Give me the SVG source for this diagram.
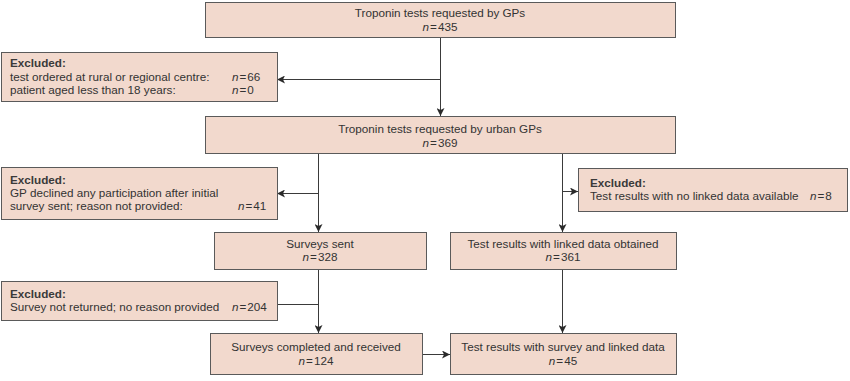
<svg xmlns="http://www.w3.org/2000/svg" width="850" height="381" viewBox="0 0 850 381">
<defs>
<style>
.box{fill:#f2d9cd;stroke:#5a5a5a;stroke-width:1}
text{font-family:"Liberation Sans",Arial,sans-serif;font-size:11.7px;fill:#333}
.c{text-anchor:middle}
.h{font-weight:bold;fill:#3a3a3a}
.n{font-style:italic}
.ln{stroke:#3a3a3a;stroke-width:1;fill:none}
.ar{marker-end:url(#ah)}
</style>
<marker id="ah" viewBox="0 0 8 8" refX="8" refY="4" markerWidth="8" markerHeight="8" markerUnits="userSpaceOnUse" orient="auto">
<path d="M0,0 L8,4 L0,8 L2,4 Z" fill="#2a2a2a"/>
</marker>
</defs>
<rect width="850" height="381" fill="#fff"/>
<g id="connectors">
<line class="ln ar" x1="440.5" y1="37" x2="440.5" y2="116"/>
<line class="ln ar" x1="440.5" y1="79.5" x2="277" y2="79.5"/>
<line class="ln ar" x1="318.5" y1="153" x2="318.5" y2="232"/>
<line class="ln ar" x1="318.5" y1="193.5" x2="277" y2="193.5"/>
<line class="ln ar" x1="318.5" y1="269" x2="318.5" y2="333"/>
<line class="ln" x1="277" y1="304.5" x2="318.5" y2="304.5"/>
<line class="ln ar" x1="422" y1="354.5" x2="450" y2="354.5"/>
<line class="ln ar" x1="562.5" y1="153" x2="562.5" y2="232"/>
<line class="ln ar" x1="562.5" y1="191.5" x2="578" y2="191.5"/>
<line class="ln ar" x1="562.5" y1="269" x2="562.5" y2="333"/>
</g>
<g id="n1">
<rect class="box" x="205.5" y="2.5" width="470" height="35"/>
<text class="c" x="440" y="17">Troponin tests requested by GPs</text>
<text class="c" x="440" y="31"><tspan class="n">n</tspan><tspan dx="1">=</tspan><tspan dx="1">435</tspan></text>
</g>
<g id="ex1">
<rect class="box" x="1.5" y="52.5" width="276" height="49"/>
<text class="h" x="10" y="67">Excluded:</text>
<text x="10" y="81">test ordered at rural or regional centre:</text>
<text x="232" y="81"><tspan class="n">n</tspan><tspan dx="1">=</tspan><tspan dx="1">66</tspan></text>
<text x="10" y="94">patient aged less than 18 years:</text>
<text x="232" y="94"><tspan class="n">n</tspan><tspan dx="1">=</tspan><tspan dx="1">0</tspan></text>
</g>
<g id="n2">
<rect class="box" x="205.5" y="116.5" width="470" height="37"/>
<text class="c" x="440" y="133">Troponin tests requested by urban GPs</text>
<text class="c" x="440" y="147"><tspan class="n">n</tspan><tspan dx="1">=</tspan><tspan dx="1">369</tspan></text>
</g>
<g id="ex2">
<rect class="box" x="1.5" y="167.5" width="276" height="52"/>
<text class="h" x="10" y="184">Excluded:</text>
<text x="10" y="197">GP declined any participation after initial</text>
<text x="10" y="210">survey sent; reason not provided:</text>
<text x="238" y="210"><tspan class="n">n</tspan><tspan dx="1">=</tspan><tspan dx="1">41</tspan></text>
</g>
<g id="ex4">
<rect class="box" x="578.5" y="168.5" width="269" height="43"/>
<text class="h" x="590" y="187">Excluded:</text>
<text x="590" y="200">Test results with no linked data available</text>
<text x="810" y="200"><tspan class="n">n</tspan><tspan dx="1">=</tspan><tspan dx="1">8</tspan></text>
</g>
<g id="n3">
<rect class="box" x="214.5" y="232.5" width="212" height="37"/>
<text class="c" x="320" y="248">Surveys sent</text>
<text class="c" x="320" y="261"><tspan class="n">n</tspan><tspan dx="1">=</tspan><tspan dx="1">328</tspan></text>
</g>
<g id="n4">
<rect class="box" x="450.5" y="232.5" width="226" height="37"/>
<text class="c" x="563" y="248">Test results with linked data obtained</text>
<text class="c" x="563" y="261"><tspan class="n">n</tspan><tspan dx="1">=</tspan><tspan dx="1">361</tspan></text>
</g>
<g id="ex3">
<rect class="box" x="1.5" y="281.5" width="276" height="39"/>
<text class="h" x="10" y="298">Excluded:</text>
<text x="10" y="311">Survey not returned; no reason provided</text>
<text x="232" y="311"><tspan class="n">n</tspan><tspan dx="1">=</tspan><tspan dx="1">204</tspan></text>
</g>
<g id="n5">
<rect class="box" x="210.5" y="333.5" width="212" height="41"/>
<text class="c" x="316" y="351">Surveys completed and received</text>
<text class="c" x="316" y="365"><tspan class="n">n</tspan><tspan dx="1">=</tspan><tspan dx="1">124</tspan></text>
</g>
<g id="n6">
<rect class="box" x="450.5" y="333.5" width="226" height="41"/>
<text class="c" x="563" y="351">Test results with survey and linked data</text>
<text class="c" x="563" y="365"><tspan class="n">n</tspan><tspan dx="1">=</tspan><tspan dx="1">45</tspan></text>
</g>
</svg>
